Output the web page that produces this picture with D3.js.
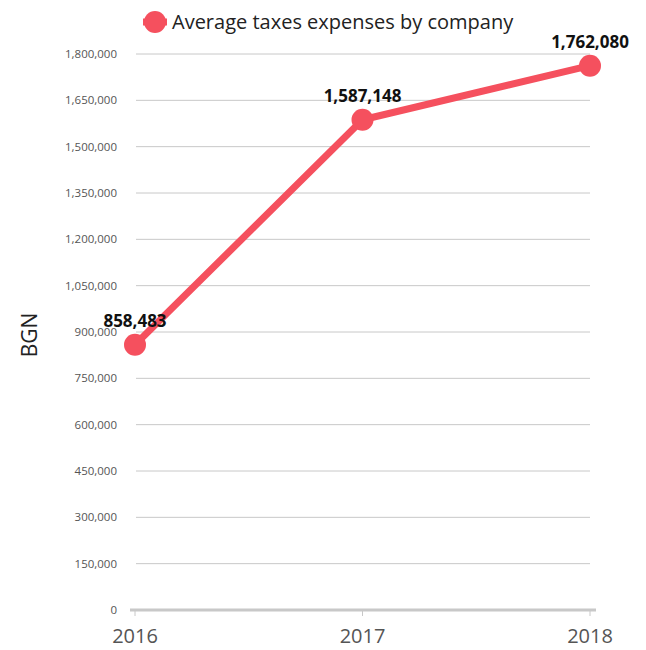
<!DOCTYPE html>
<html>
<head>
<meta charset="utf-8">
<script src="https://cdn.jsdelivr.net/npm/d3@7.9.0/dist/d3.min.js"></script>
<style>
  html, body { margin: 0; padding: 0; background: #fff; }
  svg { display: block; font-family: "Open Sans", "Noto Sans", sans-serif; }
</style>
</head>
<body>
<svg id="chart" width="646" height="650"></svg>
<script>
const years = ["2016", "2017", "2018"];
const taxes = [858483, 1587148, 1762080];
const yTicks = [0, 150000, 300000, 450000, 600000, 750000, 900000, 1050000, 1200000, 1350000, 1500000, 1650000, 1800000];
const seriesName = "Average taxes expenses by company";
const yTitle = "BGN";

const color = "#f5505e";
const svg = d3.select("#chart");
const fmt = d3.format(",");

const x = d3.scalePoint().domain(years).range([135, 590]);
const y = d3.scaleLinear().domain([0, 1800000]).range([610, 54]);

// gridlines
svg.append("g")
  .selectAll("line")
  .data(yTicks.filter((d) => d > 0))
  .join("line")
  .attr("x1", 136)
  .attr("x2", 590)
  .attr("y1", (d) => y(d))
  .attr("y2", (d) => y(d))
  .attr("stroke", "#c8c8c8")
  .attr("stroke-width", 1);

// y tick labels
svg.append("g")
  .selectAll("text")
  .data(yTicks)
  .join("text")
  .attr("x", 117)
  .attr("y", (d) => y(d))
  .attr("dy", "0.35em")
  .attr("text-anchor", "end")
  .attr("font-size", 11.5)
  .attr("fill", "#555")
  .text((d) => fmt(d));

// x axis
const xAxis = svg.append("g").attr("transform", `translate(0,${y(0)})`);
xAxis.append("line")
  .attr("x1", 130)
  .attr("x2", 596)
  .attr("stroke", "#c8c8c8")
  .attr("stroke-width", 3);
xAxis.selectAll(".tick")
  .data(years)
  .join("line")
  .attr("x1", (d) => x(d))
  .attr("x2", (d) => x(d))
  .attr("y1", 0)
  .attr("y2", 6)
  .attr("stroke", "#c8c8c8");
xAxis.selectAll("text")
  .data(years)
  .join("text")
  .attr("x", (d) => x(d))
  .attr("y", 33)
  .attr("text-anchor", "middle")
  .attr("font-size", 20)
  .attr("fill", "#555")
  .text((d) => d);

// y title
svg.append("text")
  .attr("transform", "translate(37,335) rotate(-90)")
  .attr("text-anchor", "middle")
  .attr("font-size", 21)
  .attr("fill", "#222")
  .text(yTitle);

// line
const points = years.map((yr, i) => ({ year: yr, value: taxes[i] }));
svg.append("path")
  .datum(points)
  .attr("fill", "none")
  .attr("stroke", color)
  .attr("stroke-width", 7)
  .attr("stroke-linejoin", "round")
  .attr("d", d3.line().x((d) => x(d.year)).y((d) => y(d.value)));

svg.append("g")
  .selectAll("circle")
  .data(points)
  .join("circle")
  .attr("cx", (d) => x(d.year))
  .attr("cy", (d) => y(d.value))
  .attr("r", 11)
  .attr("fill", color);

svg.append("g")
  .selectAll("text")
  .data(points)
  .join("text")
  .attr("x", (d) => x(d.year))
  .attr("y", (d) => y(d.value) - 18)
  .attr("text-anchor", "middle")
  .attr("font-size", 17)
  .attr("font-weight", "bold")
  .attr("fill", "#111")
  .text((d) => fmt(d.value));

// legend
const legend = svg.append("g").attr("transform", "translate(155,22)");
legend.append("line")
  .attr("x1", -12)
  .attr("x2", 12)
  .attr("stroke", color)
  .attr("stroke-width", 7);
legend.append("circle").attr("r", 11).attr("fill", color);
legend.append("text")
  .attr("x", 17)
  .attr("dy", "0.35em")
  .attr("font-size", 20)
  .attr("fill", "#222")
  .text(seriesName);
</script>
</body>
</html>
